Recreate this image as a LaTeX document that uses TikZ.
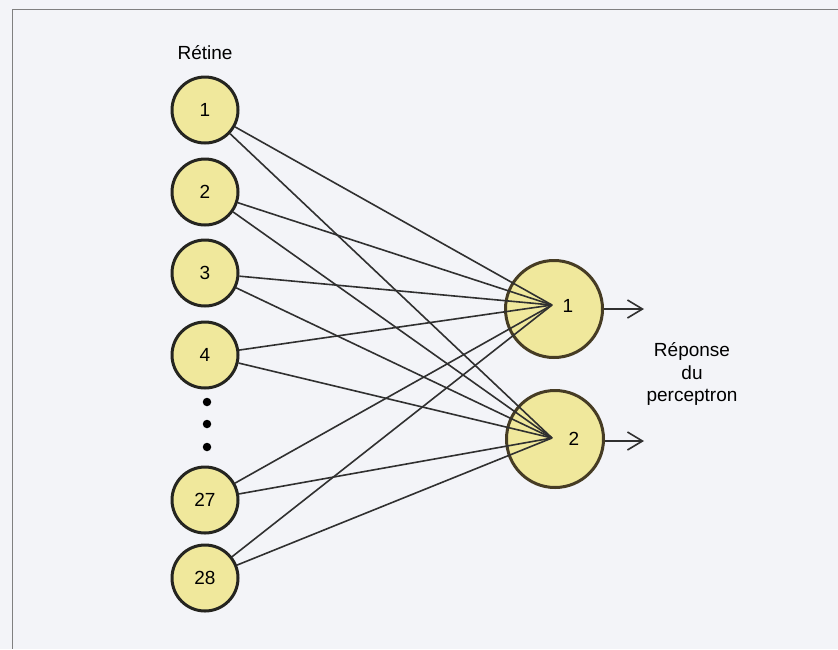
\documentclass[tikz,border=0pt]{standalone}
\usepackage{fontspec}
\setmainfont{Liberation Sans}
\usetikzlibrary{arrows.meta}
\definecolor{bgpaper}{HTML}{F3F4F8}
\definecolor{cellfill}{HTML}{F0E89C}
\definecolor{cellline}{HTML}{252520}
\definecolor{outline}{HTML}{463C24}
\definecolor{wire}{HTML}{303030}
\definecolor{framec}{HTML}{808080}
\tikzset{
  inunit/.style={circle, draw=cellline, fill=cellfill, line width=3pt,
    minimum size=66pt, inner sep=0pt, font=\fontsize{19}{22}\selectfont},
  outunit/.style={circle, draw=outline, fill=cellfill, line width=3pt,
    minimum size=97pt, inner sep=0pt},
  wirel/.style={draw=wire, line width=1.6pt},
  outarrow/.style={draw=wire, line width=1.6pt, -{Straight Barb[length=15pt,width=18pt,line width=1.6pt]}},
  lbl/.style={font=\fontsize{19}{22.5}\selectfont, align=center, inner sep=0pt},
  dotm/.style={circle, fill=black, minimum size=8.5pt, inner sep=0pt}
}
\begin{document}
\begin{tikzpicture}[x=1pt,y=-1pt]
\fill[bgpaper] (0,0) rectangle (838,649);
\useasboundingbox (0,0) rectangle (838,649);
\draw[framec, line width=1pt] (838,9) -- (12,9) -- (12,649);

\node[lbl] (retine) at (205,53) {Rétine};

\node[inunit] (i1) at (205,110) {1};
\node[inunit] (i2) at (205,192) {2};
\node[inunit] (i3) at (205,273) {3};
\node[inunit] (i4) at (205,355) {4};
\node[dotm] (d1) at (207,402) {};
\node[dotm] (d2) at (207,424) {};
\node[dotm] (d3) at (207,447) {};
\node[inunit] (i27) at (205,500) {27};
\node[inunit] (i28) at (205,578) {28};

\node[outunit] (o1) at (554,309) {};
\node[outunit] (o2) at (555,439) {};
\coordinate (c1) at (552,305);
\coordinate (c2) at (552,438);
\node[lbl] (n1) at (568,306) {1};
\node[lbl] (n2) at (574,439) {2};

\foreach \s in {i1,i2,i3,i4,i27,i28}{
  \draw[wirel] (\s) -- (c1);
  \draw[wirel] (\s) -- (c2);
}

\coordinate (a1) at (644,309);
\coordinate (a2) at (644,441);
\draw[outarrow] (o1.east) -- (a1);
\draw[outarrow] (o2.east |- a2) -- (a2);

\node[lbl] (rep) at (692,374) {Réponse\\du\\perceptron};
\end{tikzpicture}
\end{document}
